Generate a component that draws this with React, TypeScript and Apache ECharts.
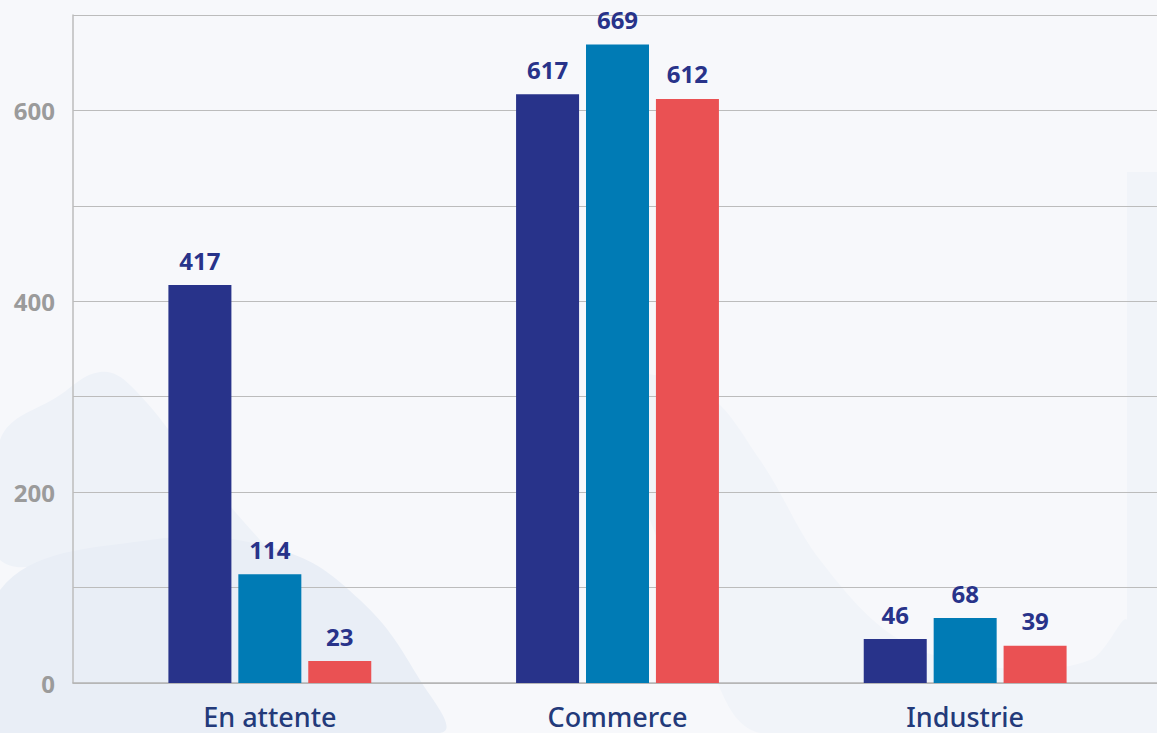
import React, { useEffect, useRef } from "react";
import * as echarts from "echarts";

const categories = ["En attente", "Commerce", "Industrie"];
const seriesNames = ["Série 1", "Série 2", "Série 3"];
const series1 = [417, 617, 46];
const series2 = [114, 669, 68];
const series3 = [23, 612, 39];
const seriesColors = ["#28338a", "#007bb5", "#ea5153"];
const yTicks = [0, 200, 400, 600];

export default function App() {
  const ref = useRef<HTMLDivElement>(null);
  useEffect(() => {
    document.body.style.margin = "0";
    const chart = echarts.init(ref.current!, undefined, { renderer: "svg" });
    const values = [series1, series2, series3];
    const labelFont = "'Open Sans', 'Noto Sans', sans-serif";
    chart.setOption({
      animation: false,
      backgroundColor: "#f7f8fb",
      graphic: [
        {
          type: "polygon",
          z: -10,
          silent: true,
          shape: {
            points: [
              [0, 440], [60, 395], [100, 372], [130, 385], [200, 470],
              [260, 540], [300, 580], [330, 600], [280, 585], [200, 560],
              [120, 548], [0, 560],
            ],
            smooth: 0.4,
          },
          style: { fill: "#eef2f8" },
        },
        {
          type: "polygon",
          z: -10,
          silent: true,
          shape: {
            points: [
              [0, 590], [150, 540], [280, 550], [360, 600], [420, 680],
              [440, 733], [0, 733],
            ],
            smooth: 0.4,
          },
          style: { fill: "#e9eef6" },
        },
        {
          type: "polygon",
          z: -10,
          silent: true,
          shape: {
            points: [
              [600, 380], [700, 390], [760, 460], [820, 560], [900, 640],
              [1000, 668], [1090, 660], [1127, 620], [1127, 733], [760, 733],
              [700, 640], [650, 520],
            ],
            smooth: 0.35,
          },
          style: { fill: "#f1f4f9" },
        },
        {
          type: "rect",
          z: -10,
          silent: true,
          shape: { x: 1127, y: 172, width: 30, height: 561 },
          style: { fill: "#f1f4f9" },
        },
      ],
      grid: [
        { left: 73, right: 0, top: 15, bottom: 50 },
        { left: 96, right: 18, top: 15, bottom: 50 },
      ],
      xAxis: [
        {
          gridIndex: 0,
          type: "value",
          min: 0,
          max: 1,
          axisLine: { show: true, onZero: false, lineStyle: { color: "#b4b4b4", width: 1.5 } },
          axisTick: { show: false },
          axisLabel: { show: false },
          splitLine: { show: false },
        },
        {
          gridIndex: 1,
          type: "category",
          data: categories,
          axisLine: { show: false },
          axisTick: { show: false },
          axisLabel: {
            color: "#233a7a",
            fontSize: 27,
            lineHeight: 28,
            fontWeight: 500,
            fontFamily: "'Noto Sans', sans-serif",
            margin: 19,
          },
        },
      ],
      yAxis: [
        {
          gridIndex: 0,
          type: "value",
          min: 0,
          max: 700,
          interval: 100,
          axisLine: { show: true, lineStyle: { color: "#bdbdbd", width: 1.5 } },
          axisTick: { show: false },
          axisLabel: {
            color: "#9b9b9b",
            fontSize: 24,
            fontWeight: "bold",
            fontFamily: labelFont,
            margin: 18,
            formatter: (v: number) => (yTicks.includes(v) ? String(v) : ""),
          },
          splitLine: { show: true, lineStyle: { color: "#bcbcbc", width: 1 } },
        },
        {
          gridIndex: 1,
          type: "value",
          min: 0,
          max: 700,
          show: false,
          splitLine: { show: false },
        },
      ],
      series: values.map((d, i) => ({
        name: seriesNames[i],
        type: "bar",
        xAxisIndex: 1,
        yAxisIndex: 1,
        data: d,
        barWidth: 63,
        barGap: "11%",
        itemStyle: { color: seriesColors[i] },
        label: {
          show: true,
          position: "top",
          distance: 13,
          color: "#28338a",
          fontSize: 24,
          fontWeight: "bold",
          fontFamily: labelFont,
        },
      })),
    });
    return () => chart.dispose();
  }, []);
  return (
    <div
      ref={ref}
      style={{ position: "absolute", left: 0, top: 0, width: 1157, height: 733 }}
    />
  );
}
